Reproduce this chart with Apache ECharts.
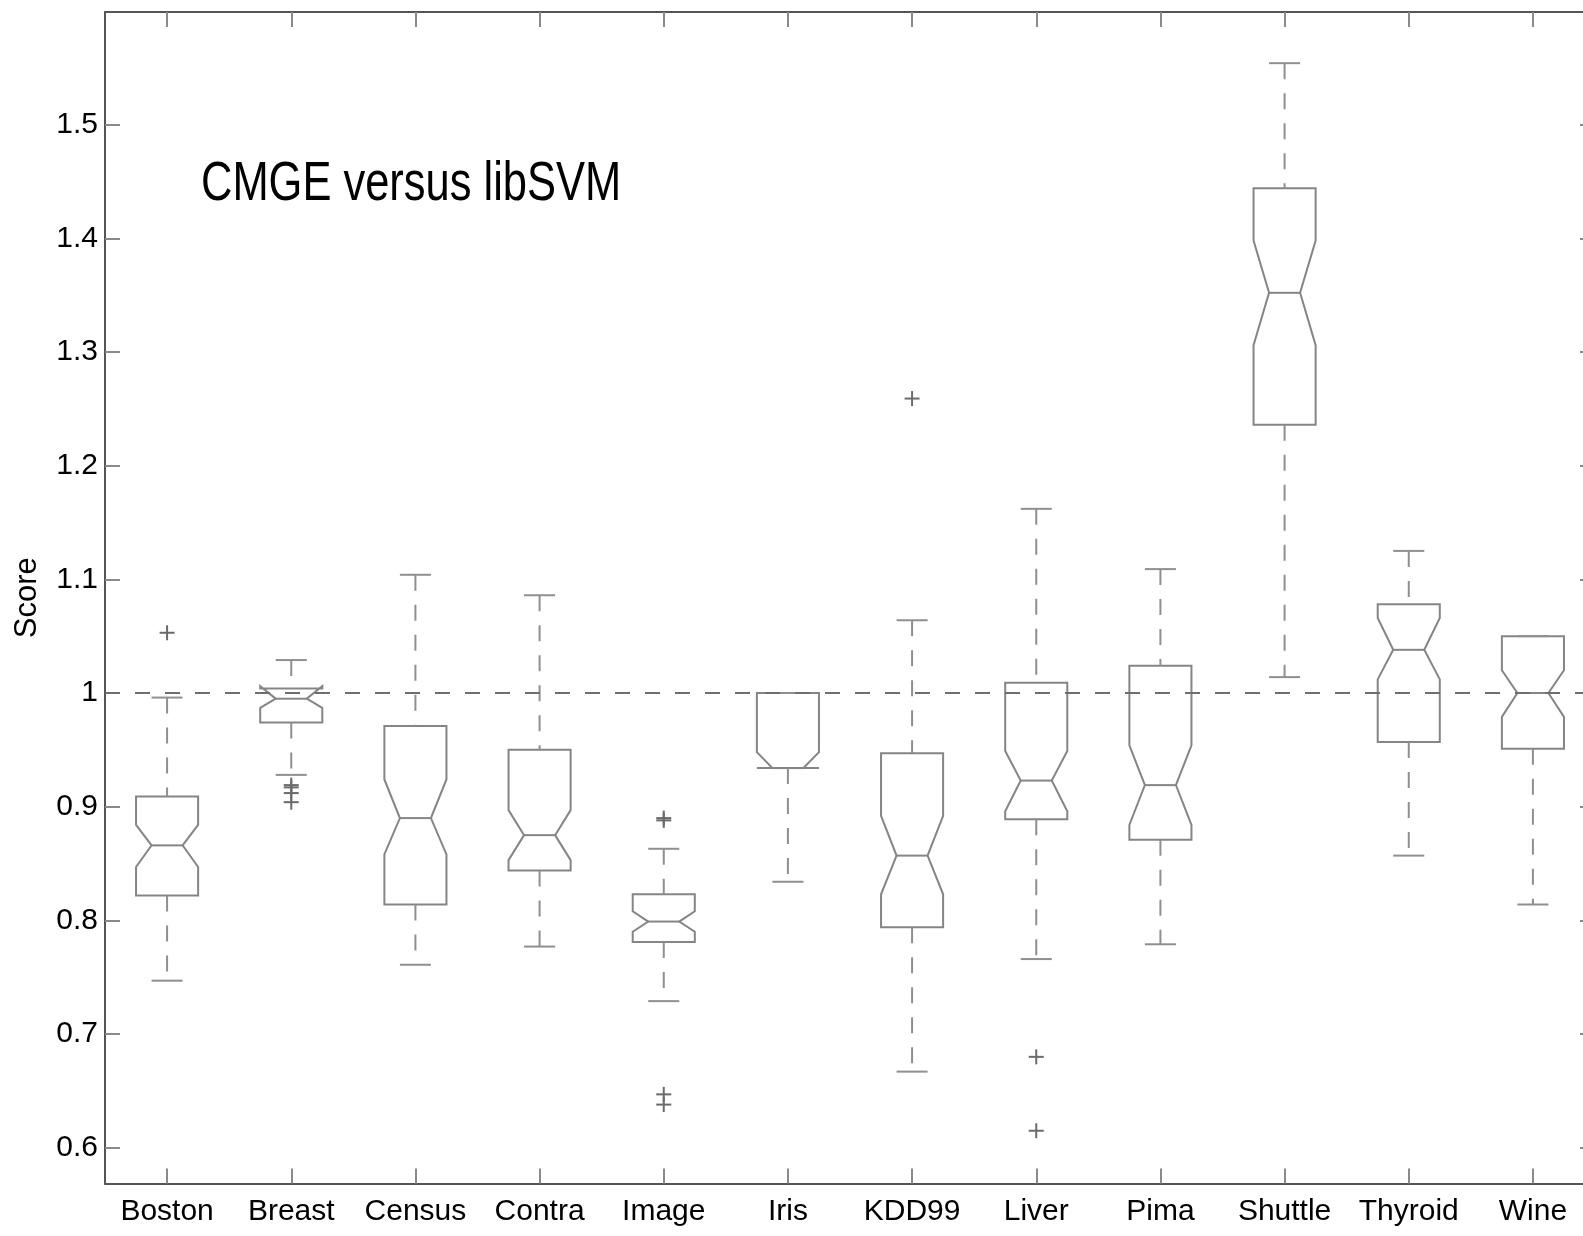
<!DOCTYPE html>
<html>
<head>
<meta charset="utf-8">
<script src="https://cdn.jsdelivr.net/npm/echarts@6/dist/echarts.min.js"></script>
<style>
  html, body { margin: 0; padding: 0; background: #ffffff; }
  #chart { width: 1583px; height: 1236px; }
</style>
</head>
<body>
<div id="chart"></div>
<script>
// Data sets compared (one notched box each)
const categories = ['Boston', 'Breast', 'Census', 'Contra', 'Image', 'Iris', 'KDD99', 'Liver', 'Pima', 'Shuttle', 'Thyroid', 'Wine'];

// Box statistics per data set
const whiskerLow  = [0.747, 0.928, 0.761, 0.777, 0.729, 0.834, 0.667, 0.766, 0.779, 1.014, 0.857, 0.814];
const quartile1   = [0.822, 0.974, 0.814, 0.844, 0.781, 0.934, 0.794, 0.889, 0.871, 1.236, 0.957, 0.951];
const notchLow    = [0.847, 0.987, 0.858, 0.853, 0.790, 0.934, 0.823, 0.896, 0.884, 1.306, 1.012, 0.979];
const median      = [0.866, 0.995, 0.890, 0.875, 0.799, 0.934, 0.857, 0.923, 0.919, 1.352, 1.038, 1.000];
const notchHigh   = [0.884, 1.006, 0.924, 0.897, 0.808, 0.948, 0.892, 0.949, 0.954, 1.398, 1.066, 1.020];
const quartile3   = [0.909, 1.004, 0.971, 0.950, 0.823, 1.000, 0.947, 1.009, 1.024, 1.444, 1.078, 1.050];
const whiskerHigh = [0.996, 1.029, 1.104, 1.086, 0.863, 1.000, 1.064, 1.162, 1.109, 1.554, 1.125, 1.050];

// Points beyond the whiskers
const outliers = [
  [1.053],
  [0.919, 0.917, 0.912, 0.904],
  [],
  [],
  [0.890, 0.888, 0.647, 0.638],
  [],
  [1.259],
  [0.680, 0.615],
  [],
  [],
  [],
  []
];

// Y axis ticks and their labels
const yTicks      = [0.6, 0.7, 0.8, 0.9, 1.0, 1.1, 1.2, 1.3, 1.4, 1.5];
const yTickLabels = ['0.6', '0.7', '0.8', '0.9', '1', '1.1', '1.2', '1.3', '1.4', '1.5'];
const referenceLevel = 1;
const titleText = 'CMGE versus libSVM';

const FONT = "'Liberation Sans', Arial, Helvetica, sans-serif";
const BOX_COLOR = '#858585';
const WHISKER_COLOR = '#8f8f8f';
const OUTLIER_COLOR = '#6a6a6a';
const AXIS_COLOR = '#555555';
const TICK_COLOR = '#8a8a8a';
const Y_MIN = 0.5686;
const Y_MAX = 1.599;

const boxData = categories.map((c, i) => [
  i, whiskerLow[i], quartile1[i], notchLow[i], median[i], notchHigh[i], quartile3[i], whiskerHigh[i]
]);
const outlierData = [];
outliers.forEach((list, i) => list.forEach(v => outlierData.push([i, v])));

function tickLabel(v) {
  for (let k = 0; k < yTicks.length; k++) {
    if (Math.abs(yTicks[k] - v) < 1e-6) return yTickLabels[k];
  }
  return '';
}

// Notched box with dashed whiskers and solid end caps
function renderBox(params, api) {
  const i = api.value(0);
  const band = api.size([1, 0])[0];
  const hw = band * 0.25;     // half box width
  const nw = band * 0.125;    // half width at the notch / caps
  const x = api.coord([i, api.value(4)])[0];
  const py = v => api.coord([i, v])[1];
  const wlo = py(api.value(1)), b1 = py(api.value(2)), nlo = py(api.value(3));
  const med = py(api.value(4)), nhi = py(api.value(5)), b3 = py(api.value(6)), whi = py(api.value(7));

  const solid = { stroke: BOX_COLOR, lineWidth: 2, fill: 'none' };
  const dashed = { stroke: WHISKER_COLOR, lineWidth: 2, lineDash: [16, 14] };
  const children = [
    {
      type: 'polygon',
      shape: { points: [
        [x - hw, b1], [x - hw, nlo], [x - nw, med], [x - hw, nhi], [x - hw, b3],
        [x + hw, b3], [x + hw, nhi], [x + nw, med], [x + hw, nlo], [x + hw, b1]
      ] },
      style: solid
    },
    { type: 'line', shape: { x1: x - nw, y1: med, x2: x + nw, y2: med }, style: { stroke: BOX_COLOR, lineWidth: 2 } },
    { type: 'line', shape: { x1: x - nw, y1: whi, x2: x + nw, y2: whi }, style: { stroke: WHISKER_COLOR, lineWidth: 2 } },
    { type: 'line', shape: { x1: x - nw, y1: wlo, x2: x + nw, y2: wlo }, style: { stroke: WHISKER_COLOR, lineWidth: 2 } }
  ];
  if (b3 - whi > 1) {
    children.push({ type: 'line', shape: { x1: x, y1: whi, x2: x, y2: b3 }, style: dashed });
  }
  if (wlo - b1 > 1) {
    children.push({ type: 'line', shape: { x1: x, y1: b1, x2: x, y2: wlo }, style: dashed });
  }
  return { type: 'group', children };
}

// '+' marker for each outlier
function renderOutlier(params, api) {
  const p = api.coord([api.value(0), api.value(1)]);
  const s = 7.5;
  const st = { stroke: OUTLIER_COLOR, lineWidth: 2 };
  return {
    type: 'group',
    children: [
      { type: 'line', shape: { x1: p[0] - s, y1: p[1], x2: p[0] + s, y2: p[1] }, style: st },
      { type: 'line', shape: { x1: p[0], y1: p[1] - s, x2: p[0], y2: p[1] + s }, style: st }
    ]
  };
}

const labelStyle = { fontFamily: FONT, fontSize: 30, color: '#000000' };

const catAxisBase = {
  type: 'category',
  data: categories,
  boundaryGap: true,
  axisLine: { show: true, onZero: false, lineStyle: { color: AXIS_COLOR, width: 2 } },
  axisTick: { show: true, inside: true, length: 15, alignWithLabel: true, interval: 0, lineStyle: { color: TICK_COLOR, width: 2 } },
  splitLine: { show: false }
};
const valAxisBase = {
  type: 'value',
  min: Y_MIN,
  max: Y_MAX,
  axisLine: { show: true, onZero: false, lineStyle: { color: AXIS_COLOR, width: 2 } },
  axisTick: { show: true, inside: true, length: 15, customValues: yTicks, lineStyle: { color: TICK_COLOR, width: 2 } },
  splitLine: { show: false }
};

const option = {
  animation: false,
  backgroundColor: '#ffffff',
  grid: { left: 105, top: 12, width: 1490, height: 1171.5, outerBoundsMode: 'none', containLabel: false },
  graphic: [
    {
      type: 'text',
      x: 201,
      y: 185,
      scaleX: 0.776,
      style: {
        text: titleText,
        font: "56px 'Liberation Sans', Arial, Helvetica, sans-serif",
        fill: '#000000',
        align: 'left',
        verticalAlign: 'middle'
      },
      z: 10
    }
  ],
  xAxis: [
    Object.assign({}, catAxisBase, {
      position: 'bottom',
      axisLabel: Object.assign({ show: true, interval: 0, margin: 13 }, labelStyle)
    }),
    Object.assign({}, catAxisBase, {
      position: 'top',
      axisLabel: { show: false }
    })
  ],
  yAxis: [
    Object.assign({}, valAxisBase, {
      position: 'left',
      axisLabel: Object.assign({ show: true, margin: 7, customValues: yTicks, formatter: tickLabel }, labelStyle),
      name: 'Score',
      nameLocation: 'middle',
      nameRotate: 90,
      nameGap: 62,
      nameTextStyle: { fontFamily: FONT, fontSize: 31, color: '#000000' }
    }),
    Object.assign({}, valAxisBase, {
      position: 'right',
      axisLabel: { show: false }
    })
  ],
  series: [
    {
      type: 'custom',
      name: 'boxes',
      xAxisIndex: 0,
      yAxisIndex: 0,
      renderItem: renderBox,
      encode: { x: 0, y: [1, 2, 3, 4, 5, 6, 7] },
      data: boxData,
      silent: true,
      markLine: {
        silent: true,
        symbol: 'none',
        label: { show: false },
        lineStyle: { type: [15, 15], color: '#6e6e6e', width: 2 },
        data: [{ yAxis: referenceLevel }]
      }
    },
    {
      type: 'custom',
      name: 'outliers',
      xAxisIndex: 0,
      yAxisIndex: 0,
      renderItem: renderOutlier,
      encode: { x: 0, y: 1 },
      data: outlierData,
      silent: true
    }
  ]
};

const chart = echarts.init(document.getElementById('chart'), null, { renderer: 'canvas' });
chart.setOption(option);
</script>
</body>
</html>
